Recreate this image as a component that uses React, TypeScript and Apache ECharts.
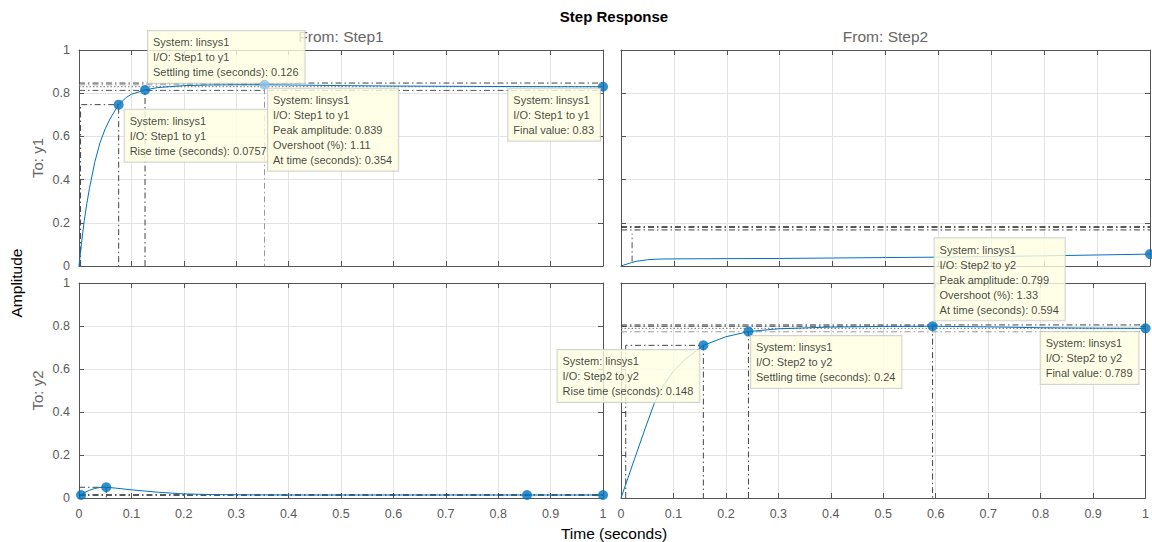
import React, { useEffect, useRef } from "react";
import * as echarts from "echarts";

// ---- Data ----
// Step1 -> y1
const tlT = [0, 0.005, 0.01, 0.015, 0.02, 0.03, 0.04, 0.05, 0.06, 0.0757, 0.09, 0.1, 0.126, 0.15, 0.2, 0.25, 0.3, 0.354, 0.4, 0.5, 0.6, 0.7, 0.8, 0.9, 1];
const tlY = [0, 0.11, 0.21, 0.29, 0.36, 0.48, 0.57, 0.635, 0.685, 0.747, 0.78, 0.795, 0.815, 0.826, 0.835, 0.838, 0.839, 0.839, 0.838, 0.835, 0.833, 0.832, 0.831, 0.83, 0.83];
// Step2 -> y1
const trT = [0, 0.01, 0.02, 0.03, 0.05, 0.07, 0.1, 0.2, 0.3, 0.4, 0.5, 0.6, 0.7, 0.8, 0.9, 1];
const trY = [0, 0.008, 0.016, 0.022, 0.029, 0.032, 0.033, 0.034, 0.035, 0.037, 0.039, 0.041, 0.044, 0.047, 0.051, 0.055];
// Step1 -> y2
const blT = [0, 0.004, 0.01, 0.02, 0.03, 0.04, 0.052, 0.07, 0.1, 0.15, 0.2, 0.25, 0.3, 0.4, 0.6, 0.8, 0.855, 1];
const blY = [0, 0.014, 0.025, 0.036, 0.044, 0.049, 0.05, 0.046, 0.038, 0.027, 0.019, 0.016, 0.015, 0.014, 0.014, 0.014, 0.014, 0.014];
// Step2 -> y2
const brT = [0, 0.01, 0.027, 0.047, 0.0635, 0.08, 0.1, 0.12, 0.157, 0.2, 0.243, 0.3, 0.4, 0.5, 0.594, 0.7, 0.8, 0.9, 1];
const brY = [0, 0.07, 0.19, 0.33, 0.44, 0.52, 0.59, 0.64, 0.71, 0.75, 0.774, 0.787, 0.795, 0.798, 0.799, 0.796, 0.792, 0.79, 0.789];

// Characteristics: rise [t10, t90, y90], settle [t, y], peak [t, y], final y, band [lo, hi]
const tlRise = [0.003, 0.0757, 0.747];
const tlSettle = [0.126, 0.815];
const tlPeak = [0.354, 0.839];
const tlFinal = 0.83;
const tlBand = [0.813, 0.847];

const trBand = [0.167, 0.18];
const trSettle = [0.021, 0.02, 0.15];
const trFinalPt = [1, 0.055];

const blStart = [0.004, 0.014];
const blPeak = [0.052, 0.05];
const blSettle = [0.855, 0.014];
const blFinal = 0.014;

const brRise = [0.009, 0.157, 0.71];
const brSettle = [0.243, 0.774];
const brPeak = [0.594, 0.799];
const brFinal = 0.789;
const brBand = [0.773, 0.805];

const rowNames = ["To: y1", "To: y2"];
const colNames = ["From: Step1", "From: Step2"];

const FONT = "'Liberation Sans', Arial, Helvetica, sans-serif";
const DASHDOT = [6, 3, 1.5, 3];
const DOT = [1.5, 2];
const BLUE = "#0072bd";

function pairs(t: number[], y: number[]) {
  return t.map((v, i) => [v, y[i]]);
}

export default function App() {
  const ref = useRef<HTMLDivElement>(null);
  useEffect(() => {
    if (!ref.current) return;
    const chart = echarts.init(ref.current, undefined, { renderer: "svg" });

    const grids = [
      { left: 79, top: 50, width: 524, height: 216 },
      { left: 621, top: 50, width: 529, height: 216 },
      { left: 79, top: 283, width: 524, height: 215 },
      { left: 621, top: 283, width: 529, height: 215 },
    ];
    const axisColor = "#555";
    const labelColor = "#5a5a5a";
    const xAxis: any[] = [];
    const yAxis: any[] = [];
    grids.forEach((g, gi) => {
      const bottomRow = gi >= 2;
      const leftCol = gi % 2 === 0;
      xAxis.push({
        type: "value", gridIndex: gi, min: 0, max: 1, interval: 0.1, position: "bottom",
        axisLine: { show: true, onZero: false, lineStyle: { color: axisColor, width: 1 } },
        axisTick: { show: true, inside: true, length: 5, lineStyle: { color: axisColor } },
        axisLabel: { show: bottomRow, color: labelColor, fontSize: 12.5, fontFamily: FONT, margin: 9 },
        splitLine: { show: true, lineStyle: { color: "#e3e3e3", width: 1 } },
      });
      xAxis.push({
        type: "value", gridIndex: gi, min: 0, max: 1, interval: 0.1, position: "top",
        axisLine: { show: true, onZero: false, lineStyle: { color: axisColor, width: 1 } },
        axisTick: { show: true, inside: true, length: 5, lineStyle: { color: axisColor } },
        axisLabel: { show: false },
        splitLine: { show: false },
        name: gi < 2 ? colNames[gi] : "",
        nameLocation: "middle", nameGap: 6,
        nameTextStyle: { color: "#666", fontSize: 15.5, fontFamily: FONT, verticalAlign: "bottom" },
      });
      yAxis.push({
        type: "value", gridIndex: gi, min: 0, max: 1, interval: 0.2, position: "left",
        axisLine: { show: true, onZero: false, lineStyle: { color: axisColor, width: 1 } },
        axisTick: { show: true, inside: true, length: 5, lineStyle: { color: axisColor } },
        axisLabel: { show: leftCol, color: labelColor, fontSize: 12.5, fontFamily: FONT, margin: 9 },
        splitLine: { show: true, lineStyle: { color: "#e3e3e3", width: 1 } },
        name: leftCol ? rowNames[gi >= 2 ? 1 : 0] : "",
        nameLocation: "middle", nameGap: 34, nameRotate: 90,
        nameTextStyle: { color: "#666", fontSize: 15, fontFamily: FONT },
      });
      yAxis.push({
        type: "value", gridIndex: gi, min: 0, max: 1, interval: 0.2, position: "right",
        axisLine: { show: true, onZero: false, lineStyle: { color: axisColor, width: 1 } },
        axisTick: { show: true, inside: true, length: 5, lineStyle: { color: axisColor } },
        axisLabel: { show: false },
        splitLine: { show: false },
      });
    });

    const series: any[] = [];
    const curve = (gi: number, data: number[][]) =>
      series.push({
        type: "line", xAxisIndex: gi * 2, yAxisIndex: gi * 2, data, showSymbol: false, symbol: "none",
        lineStyle: { color: BLUE, width: 1 }, z: 5, silent: true,
      });
    const ref_ = (gi: number, data: number[][], dash: number[], color: string, width = 1) =>
      series.push({
        type: "line", xAxisIndex: gi * 2, yAxisIndex: gi * 2, data, showSymbol: false, symbol: "none",
        lineStyle: { color, width, type: dash }, z: 4, silent: true,
      });
    let zc = 10;
    const marker = (gi: number, pt: number[], tip?: { lines: string[]; dx: number; dy: number; right?: boolean }, color = BLUE, z?: number) => {
      zc += 1;
      series.push({
        type: "scatter", xAxisIndex: gi * 2, yAxisIndex: gi * 2, data: [pt], symbol: "circle", symbolSize: 10,
        itemStyle: { color }, z: z ?? zc, silent: true, clip: false,
        label: tip
          ? {
              show: true,
              position: [5 + tip.dx, 5 + tip.dy],
              align: tip.right ? "right" : "left",
              verticalAlign: "top",
              formatter: tip.lines.map((l) => `{a|${l}}`).join("\n"),
              rich: { a: { align: "left", fontSize: 11, lineHeight: 15, color: "#111", fontFamily: FONT } },
              backgroundColor: "#ffffe1",
              borderColor: "#c8c8c8",
              borderWidth: 1,
              padding: [4, 6, 3, 5],
              fontSize: 11,
              lineHeight: 15,
              color: "#111",
              fontFamily: FONT,
            }
          : { show: false },
      });
    };

    // --- Top-left: Step1 -> y1
    ref_(0, [[0, tlBand[1]], [1, tlBand[1]]], DASHDOT, "#444");
    ref_(0, [[0, tlBand[0]], [1, tlBand[0]]], DASHDOT, "#555");
    ref_(0, [[0, tlFinal], [1, tlFinal]], DOT, "#777");
    ref_(0, [[0, tlPeak[1]], [tlPeak[0], tlPeak[1]], [tlPeak[0], 0]], DASHDOT, "#999");
    ref_(0, [[tlRise[0], 0], [tlRise[0], tlRise[2]], [tlRise[1], tlRise[2]], [tlRise[1], 0]], DASHDOT, "#444");
    ref_(0, [[tlSettle[0], 0], [tlSettle[0], tlSettle[1]]], DASHDOT, "#444");
    curve(0, pairs(tlT, tlY));
    marker(0, [tlRise[1], tlRise[2]], { lines: ["System: linsys1", "I/O: Step1 to y1", "Rise time (seconds): 0.0757"], dx: 6, dy: 5 });
    marker(0, tlPeak, { lines: ["System: linsys1", "I/O: Step1 to y1", "Peak amplitude: 0.839", "Overshoot (%): 1.11", "At time (seconds): 0.354"], dx: 3.5, dy: 4 }, "#8cc0e4", 30);
    marker(0, tlSettle, { lines: ["System: linsys1", "I/O: Step1 to y1", "Settling time (seconds): 0.126"], dx: 3, dy: -59 });
    marker(0, [1, tlFinal], { lines: ["System: linsys1", "I/O: Step1 to y1", "Final value: 0.83"], dx: -3, dy: 2, right: true });

    // --- Top-right: Step2 -> y1
    ref_(1, [[0, trBand[1]], [1, trBand[1]]], DASHDOT, "#222", 1.5);
    ref_(1, [[0, trBand[0]], [1, trBand[0]]], DASHDOT, "#444", 1);
    ref_(1, [[trSettle[0], trSettle[1]], [trSettle[0], trSettle[2]]], DASHDOT, "#555");
    curve(1, pairs(trT, trY));
    marker(1, trFinalPt);

    // --- Bottom-left: Step1 -> y2
    ref_(2, [[0, blFinal], [1, blFinal]], DASHDOT, "#222", 1.5);
    ref_(2, [[0, blPeak[1]], [blPeak[0], blPeak[1]], [blPeak[0], 0]], DASHDOT, "#444");
    curve(2, pairs(blT, blY));
    marker(2, blStart);
    marker(2, blPeak);
    marker(2, blSettle);
    marker(2, [1, blFinal]);

    // --- Bottom-right: Step2 -> y2
    ref_(3, [[0, brBand[1]], [1, brBand[1]]], DASHDOT, "#444");
    ref_(3, [[0, brBand[0]], [1, brBand[0]]], DASHDOT, "#999");
    ref_(3, [[0, brFinal], [1, brFinal]], DOT, "#777");
    ref_(3, [[0, brPeak[1]], [brPeak[0], brPeak[1]], [brPeak[0], 0]], DASHDOT, "#444");
    ref_(3, [[brRise[0], 0], [brRise[0], brRise[2]], [brRise[1], brRise[2]], [brRise[1], 0]], DASHDOT, "#444");
    ref_(3, [[brSettle[0], 0], [brSettle[0], brSettle[1]]], DASHDOT, "#444");
    curve(3, pairs(brT, brY));
    marker(3, [brRise[1], brRise[2]], { lines: ["System: linsys1", "I/O: Step2 to y2", "Rise time (seconds): 0.148"], dx: -4, dy: 4.6, right: true });
    marker(3, brSettle, { lines: ["System: linsys1", "I/O: Step2 to y2", "Settling time (seconds): 0.24"], dx: 2.5, dy: 4.4 });
    marker(3, brPeak, { lines: ["System: linsys1", "I/O: Step2 to y2", "Peak amplitude: 0.799", "Overshoot (%): 1.33", "At time (seconds): 0.594"], dx: 2, dy: -88 });
    marker(3, [1, brFinal], { lines: ["System: linsys1", "I/O: Step2 to y2", "Final value: 0.789"], dx: -7, dy: 3.6, right: true });

    chart.setOption({
      animation: false,
      backgroundColor: "#fff",
      grid: grids,
      xAxis,
      yAxis,
      series,
      graphic: [
        { type: "text", x: 614, y: 16, style: { text: "Step Response", fill: "#000", font: `bold 15px ${FONT}`, textAlign: "center", textVerticalAlign: "middle" } },
        { type: "text", x: 16, y: 283, rotation: Math.PI / 2, style: { text: "Amplitude", fill: "#000", font: `15.5px ${FONT}`, textAlign: "center", textVerticalAlign: "middle" } },
        { type: "text", x: 614, y: 533, style: { text: "Time (seconds)", fill: "#000", font: `15.5px ${FONT}`, textAlign: "center", textVerticalAlign: "middle" } },
      ],
    });
    return () => chart.dispose();
  }, []);
  return <div ref={ref} style={{ position: "absolute", left: 0, top: 0, width: 1152, height: 542 }} />;
}
